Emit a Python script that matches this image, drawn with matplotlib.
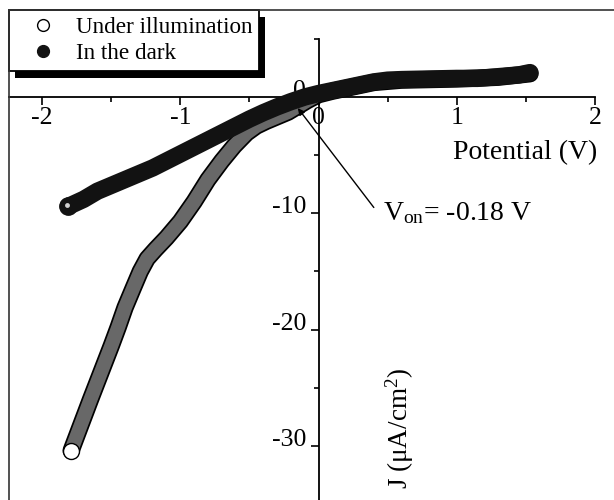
import matplotlib
matplotlib.use("Agg")
import matplotlib.pyplot as plt
from matplotlib.lines import Line2D
from matplotlib.patches import Rectangle
from matplotlib.transforms import IdentityTransform, ScaledTranslation

plt.rcParams["font.family"] = ["Liberation Serif", "DejaVu Serif"]
plt.rcParams["mathtext.fontset"] = "custom"
plt.rcParams["mathtext.rm"] = "Liberation Serif"
plt.rcParams["mathtext.it"] = "Liberation Serif:italic"

# J-V sweep, dark
dark_v = [-1.81, -1.70, -1.60, -1.50, -1.40, -1.30, -1.20, -1.10, -1.00, -0.90,
          -0.80, -0.70, -0.60, -0.50, -0.40, -0.30, -0.20, -0.10, 0.0, 0.10,
          0.20, 0.30, 0.40, 0.50, 0.60, 0.80, 1.00, 1.15, 1.30, 1.45, 1.53]
dark_j = [-9.4, -8.8, -8.1, -7.6, -7.1, -6.6, -6.1, -5.5, -4.9, -4.3,
          -3.7, -3.1, -2.5, -1.9, -1.35, -0.85, -0.4, 0.0, 0.3, 0.55,
          0.8, 1.05, 1.3, 1.45, 1.5, 1.55, 1.6, 1.6, 1.75, 1.9, 2.1]

# J-V sweep, under illumination
illum_v = [-1.79, -1.72, -1.65, -1.575, -1.50, -1.45, -1.40, -1.34, -1.29, -1.24,
           -1.18, -1.10, -1.00, -0.90, -0.80, -0.70, -0.61, -0.52, -0.45, -0.38,
           -0.30, -0.22, -0.15, -0.08, 0.0, 0.10, 0.20, 0.40, 0.60, 0.80,
           1.00, 1.30, 1.53]
illum_j = [-30.4, -28.2, -26.0, -23.7, -21.4, -19.8, -18.1, -16.4, -15.0, -13.9,
           -13.1, -12.1, -10.7, -9.0, -7.1, -5.5, -4.2, -3.1, -2.5, -2.1,
           -1.7, -1.3, -0.8, -0.3, 0.2, 0.5, 0.75, 1.25, 1.45, 1.5,
           1.55, 1.7, 2.0]

x_ticks = [-2, -1, 0, 1, 2]
x_labels = ["-2", "-1", "0", "1", "2"]
y_ticks = [-30, -20, -10, 0]
y_labels = ["-30", "-20", "-10", "0"]
v_on = -0.18

W, H = 614, 500
fig = plt.figure(figsize=(W / 100, H / 100), dpi=100)
ax = fig.add_axes([0, 0, 1, 1])
ax.set_xlim(-2.305, 2.138)
ax.set_ylim(-34.65, 8.34)
ax.patch.set_alpha(0)

# axes crossing at the origin
for s in ["top", "right"]:
    ax.spines[s].set_visible(False)
ax.spines["bottom"].set_position(("data", 0))
ax.spines["left"].set_position(("data", 0))
ax.spines["bottom"].set_bounds(-2.24, 2.0)
ax.spines["left"].set_bounds(-34.65, 5.0)
for s in ["bottom", "left"]:
    ax.spines[s].set_linewidth(1.3)

ax.set_xticks(x_ticks)
ax.set_xticklabels(x_labels)
ax.set_xticks([-1.5, -0.5, 0.5, 1.5], minor=True)
ax.set_yticks(y_ticks)
ax.set_yticklabels(y_labels)
ax.set_yticks([-25, -15, -5, 5], minor=True)
ax.tick_params(which="both", direction="out", width=1.2, labelsize=18.5)
ax.tick_params(which="major", length=6)
ax.tick_params(which="minor", length=3.5)
ax.tick_params(axis="x", pad=1)
ax.tick_params(axis="y", pad=3)
for lab in ax.get_yticklabels():
    lab.set_verticalalignment("baseline")

# illuminated curve: dense open circles -> dark rim with grey body
kw = dict(solid_capstyle="round", solid_joinstyle="round")
ax.plot(illum_v, illum_j, color="black", lw=12.5, zorder=2, **kw)
ax.plot(illum_v, illum_j, color="#686868", lw=10, zorder=2.1, **kw)
ax.plot(illum_v[:1], illum_j[:1], "o", ms=11.5, mfc="white", mec="black",
        mew=1.0, zorder=2.2)

# dark curve: filled spheres
ax.plot(dark_v, dark_j, color="#121212", lw=12.5, zorder=3, **kw)
ax.plot(dark_v[:1], dark_j[:1], "o", ms=12.5, mfc="#121212", mec="#121212", zorder=3.1)
shine = ax.transData + ScaledTranslation(-1.5 / 100, 1.0 / 100, fig.dpi_scale_trans)
ax.plot(dark_v[:1], dark_j[:1], "o", ms=3.5, mfc="#d0d0d0", mec="none",
        transform=shine, zorder=3.2)

# onset potential marker
ax.annotate("", xy=(v_on + 0.03, -0.95), xytext=(0.40, -9.5),
            arrowprops=dict(arrowstyle="-|>", color="black", lw=1.0,
                            mutation_scale=10, shrinkA=0, shrinkB=0),
            zorder=4)
ax.text(0.465, -10.6, r"V$_{\rm on}$= %.2f V" % v_on, fontsize=20,
        va="baseline", ha="left")

ax.text(2.015, -4.75, "Potential (V)", fontsize=20, ha="right", va="center")
ax.text(0.59, -28.5, "J (μA/cm$^2$)", fontsize=19.5, rotation=90,
        ha="center", va="center")

# outer frame (left and top edges)
fig.add_artist(Line2D([9 / W, 9 / W], [0, 1 - 10 / H], transform=fig.transFigure,
                      color="#333333", lw=1.2))
fig.add_artist(Line2D([9 / W, 1], [1 - 10 / H, 1 - 10 / H], transform=fig.transFigure,
                      color="#333333", lw=1.2))

handles = [
    Line2D([], [], ls="none", marker="o", ms=8.5, mfc="white", mec="black", mew=1.0),
    Line2D([], [], ls="none", marker="o", ms=8.5, mfc="#121212", mec="#121212"),
]
leg = ax.legend(handles, ["Under illumination", "In the dark"],
                loc="upper left", bbox_to_anchor=(9 / W, 1 - 10 / H),
                bbox_transform=fig.transFigure, borderaxespad=0,
                fontsize=16.7, frameon=True, fancybox=False, framealpha=1,
                edgecolor="black", borderpad=0.28, handlelength=2.36,
                handletextpad=0.25, labelspacing=0.22)
leg.get_frame().set_linewidth(1.3)
leg.set_zorder(6)

# solid drop shadow behind the legend box
fig.canvas.draw()
bb = leg.get_window_extent()
ax.add_patch(Rectangle((bb.x0 + 6, bb.y0 - 7), bb.width, bb.height,
                       transform=IdentityTransform(), facecolor="black",
                       edgecolor="none", clip_on=False, zorder=5.5))

fig.savefig("out.png", dpi=100)
